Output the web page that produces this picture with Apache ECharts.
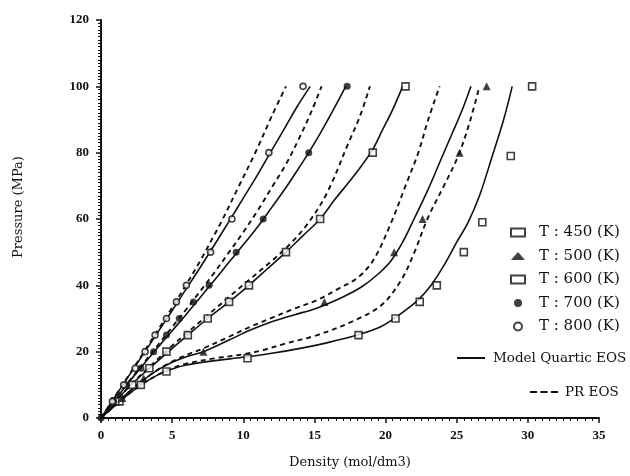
<!DOCTYPE html>
<html>
<head>
<meta charset="utf-8">
<script src="https://cdn.jsdelivr.net/npm/echarts@6/dist/echarts.min.js"></script>
<style>
  html, body { margin: 0; padding: 0; background: #ffffff; }
  #chart { width: 630px; height: 476px; }
</style>
</head>
<body>
<div id="chart"></div>
<script>
// Axis ranges (density in mol/dm3, pressure in MPa)
const densityMin = 0, densityMax = 35, densityStep = 5;
const pressureMin = 0, pressureMax = 120, pressureStep = 20;

// Legend labels
const tempLabels = ['T : 450 (K)', 'T : 500 (K)', 'T : 600 (K)', 'T : 700 (K)', 'T : 800 (K)'];
const modelLabel = 'Model Quartic EOS';
const prLabel = 'PR EOS';

// Experimental points [density, pressure]
const exp450 = [[1.3,5],[2.8,10],[4.6,14],[10.3,18],[18.1,25],[20.7,30],[22.4,35],[23.6,40],[25.5,50],[26.8,59],[28.8,79],[30.3,100]];
const exp500 = [[1.5,6],[3.0,12],[7.2,20],[15.7,35],[20.6,50],[22.6,60],[25.2,80],[27.1,100]];
const exp600 = [[1.0,5],[2.2,10],[3.4,15],[4.6,20],[6.1,25],[7.5,30],[9.0,35],[10.4,40],[13.0,50],[15.4,60],[19.1,80],[21.4,100]];
const exp700 = [[0,0],[0.9,5],[1.8,10],[2.8,15],[3.7,20],[4.6,25],[5.5,30],[6.5,35],[7.6,40],[9.5,50],[11.4,60],[14.6,80],[17.3,100]];
const exp800 = [[0.8,5],[1.6,10],[2.4,15],[3.1,20],[3.8,25],[4.6,30],[5.3,35],[6.0,40],[7.7,50],[9.2,60],[11.8,80],[14.2,100]];

// Model Quartic EOS curves [density, pressure]
const quartic450 = [[0,0],[1,3.8],[2,7.4],[3,10.5],[4,13],[5,14.8],[6,16],[8,17.3],[10,18.3],[12,19.5],[14,21],[16,22.8],[18,25],[19.5,27.2],[20.6,30],[21.5,32.8],[22.3,35.6],[23.2,40],[24.1,46],[25,53],[25.8,59],[26.6,67],[27.5,79],[28.3,90],[28.9,100]];
const quartic500 = [[0,0],[1,4.1],[2,8],[3,11.5],[4,14.5],[5,16.8],[6,18.5],[7.2,20],[9,23.5],[10.5,26.5],[12,29],[13.5,31],[15.2,33.2],[17,36.5],[18.3,39.5],[19.5,43.5],[20.4,47.5],[21.2,53],[22,60],[23,69],[23.9,78],[24.7,86],[25.4,93],[26,100]];
const quartic600 = [[0,0],[1,5],[2,9.5],[3,13.5],[4,17.2],[5,21],[6.1,25],[7.5,30],[9,35],[10.4,40],[11.7,45],[13,50],[14.2,55],[15.4,60],[16.4,65.7],[17.4,71],[18.3,76],[19.1,81],[19.8,87],[20.5,93],[21.2,100]];
const quartic700 = [[0,0],[1,5.6],[2,11],[3,16.2],[4,21.3],[5,26.3],[6,31.3],[7,36.5],[8,41.7],[9,47],[10,52.2],[11,57.6],[12,63.5],[13,69.5],[14,76],[14.6,80],[15.5,86.5],[16.4,93.5],[17.2,100]];
const quartic800 = [[0,0],[1,6.5],[2,13],[3,19.4],[4,25.9],[5,32.4],[6,39],[7,45.6],[8,52.4],[9,59.3],[10,66.3],[11,73.3],[11.9,80],[12.9,87.3],[13.8,94],[14.7,100]];

// Peng-Robinson EOS curves [density, pressure]
const pr450 = [[0,0],[1,3.8],[2,7.4],[3,10.5],[4,13],[5,15],[6,16.4],[8,18],[10,19.2],[11.4,20.5],[13,22.5],[15.2,25],[17.6,29],[19.7,34],[21.1,41.6],[22,49.7],[23,60.6],[24.1,70],[25.1,79],[25.9,89],[26.6,100]];
const pr500 = [[0,0],[1,4.1],[2,8],[3,11.5],[4,14.6],[5,17],[6,19],[7.2,21],[9,24.5],[10.5,27.5],[12,30.2],[13.5,32.8],[15.2,35.6],[16.7,39],[18.1,42.5],[19.2,48],[20.4,59],[21.4,70],[22.3,80],[23,90],[23.8,100]];
const pr600 = [[0,0],[1,5],[2,9.6],[3,13.8],[4,17.8],[5,21.8],[6,25.5],[7.5,31],[9,36.5],[10.4,41.6],[11.9,47],[13.3,52.5],[14.6,59],[15.9,68],[17.4,83],[18.2,91],[18.9,100]];
const pr700 = [[0,0],[1,5.7],[2,11.2],[3,16.6],[4,22],[5,27.4],[6,32.8],[7,38.4],[8,44],[9,50],[10,56],[11,62.5],[12,69.5],[13,76.5],[14,85],[14.8,92.5],[15.5,100]];
const pr800 = [[0,0],[1,6.6],[2,13.2],[3,19.8],[4,26.5],[5,33.3],[6,40.3],[7,47.6],[8,55.5],[8.5,59.5],[9.7,70],[10.9,80.5],[12,91],[13,100]];

const ink = '#111111';
const serif = '"DejaVu Serif", "Liberation Serif", serif';
const tickFont = '"Liberation Serif", "DejaVu Serif", serif';

// Legend keys for the two model families: a plain stroke and a three-dash stroke
const solidKey = 'path://M0,0h28v2h-28z';
const dashedKey = 'path://M0,0h7v2h-7z M10.5,0h7v2h-7z M21,0h7v2h-7z';

function curve(name, data, dashed) {
  return {
    name: name,
    type: 'line',
    data: data,
    smooth: 0.35,
    symbol: 'none',
    silent: true,
    z: 2,
    itemStyle: { color: ink },
    lineStyle: { color: ink, width: dashed ? 1.9 : 1.6, type: dashed ? [5, 4] : 'solid' }
  };
}

function points(name, data, symbol, filled, size) {
  return {
    name: name,
    type: 'scatter',
    data: data,
    symbol: symbol,
    symbolSize: size,
    z: 3,
    itemStyle: filled
      ? { color: ink, borderColor: ink, borderWidth: 0 }
      : { color: '#ffffff', borderColor: ink, borderWidth: 1.6 }
  };
}

const chart = echarts.init(document.getElementById('chart'), null, { renderer: 'canvas' });

chart.setOption({
  backgroundColor: '#ffffff',
  animation: false,
  grid: { left: 101, right: 31, top: 20, bottom: 58, containLabel: false },
  xAxis: {
    type: 'value',
    min: densityMin, max: densityMax, interval: densityStep,
    name: 'Density (mol/dm3)',
    nameLocation: 'middle',
    nameGap: 38,
    nameTextStyle: { fontFamily: serif, fontSize: 13, color: ink },
    axisLine: { lineStyle: { color: ink, width: 2 } },
    axisTick: { length: 5, lineStyle: { color: ink, width: 1.5 } },
    minorTick: { show: true, splitNumber: 10, length: 3, lineStyle: { color: ink, width: 1 } },
    splitLine: { show: false },
    axisLabel: { margin: 11, fontFamily: tickFont, fontSize: 13, fontWeight: 'bold', color: ink }
  },
  yAxis: {
    type: 'value',
    min: pressureMin, max: pressureMax, interval: pressureStep,
    name: 'Pressure (MPa)',
    nameLocation: 'middle',
    nameGap: 76,
    nameRotate: 90,
    nameTextStyle: { fontFamily: serif, fontSize: 13, color: ink, padding: [0, 0, 0, 24] },
    axisLine: { lineStyle: { color: ink, width: 2 } },
    axisTick: { length: 5, lineStyle: { color: ink, width: 1.5 } },
    minorTick: { show: true, splitNumber: 20, length: 3, lineStyle: { color: ink, width: 1 } },
    splitLine: { show: false },
    axisLabel: { margin: 12, fontFamily: tickFont, fontSize: 13, fontWeight: 'bold', color: ink }
  },
  legend: [
    {
      data: tempLabels,
      orient: 'vertical',
      left: 510, top: 225,
      padding: 0,
      itemWidth: 14, itemHeight: 8, itemGap: 8.5,
      selectedMode: false,
      textStyle: { fontFamily: serif, fontSize: 15, color: ink, lineHeight: 15, padding: [0, 0, 0, 9] }
    },
    {
      data: [{ name: modelLabel, icon: solidKey }],
      left: 457, top: 351,
      padding: 0,
      itemWidth: 28, itemHeight: 2,
      selectedMode: false,
      itemStyle: { color: ink },
      textStyle: { fontFamily: serif, fontSize: 13.5, color: ink, lineHeight: 14, padding: [0, 0, 0, 3] }
    },
    {
      data: [{ name: prLabel, icon: dashedKey }],
      left: 530, top: 385,
      padding: 0,
      itemWidth: 28, itemHeight: 2,
      selectedMode: false,
      itemStyle: { color: ink },
      textStyle: { fontFamily: serif, fontSize: 13.5, color: ink, lineHeight: 14, padding: [0, 0, 0, 2] }
    }
  ],
  series: [
    curve(modelLabel, quartic450, false),
    curve(modelLabel, quartic500, false),
    curve(modelLabel, quartic600, false),
    curve(modelLabel, quartic700, false),
    curve(modelLabel, quartic800, false),
    curve(prLabel, pr450, true),
    curve(prLabel, pr500, true),
    curve(prLabel, pr600, true),
    curve(prLabel, pr700, true),
    curve(prLabel, pr800, true),
    points(tempLabels[0], exp450, 'rect', false, 7),
    points(tempLabels[1], exp500, 'triangle', true, 8),
    points(tempLabels[2], exp600, 'rect', false, 7),
    points(tempLabels[3], exp700, 'circle', true, 7),
    points(tempLabels[4], exp800, 'circle', false, 6)
  ]
});
</script>
</body>
</html>
